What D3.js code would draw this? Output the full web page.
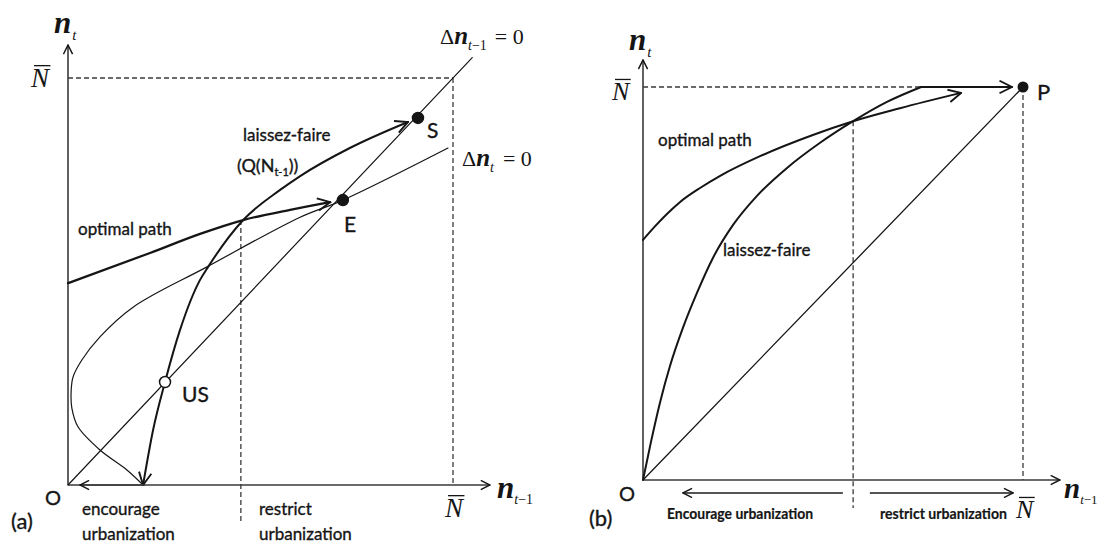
<!DOCTYPE html>
<html>
<head>
<meta charset="utf-8">
<script src="https://cdn.jsdelivr.net/npm/d3@7"></script>
<style>
  body { margin: 0; background: #fff; }
  svg { display: block; }
</style>
</head>
<body>
<svg id="chart" width="1102" height="545"></svg>
<script>
// ---------- Panel (a): laissez-faire vs optimal path with two steady states ----------
// All values in units of the city-size ceiling N̄ (origin = 0, N̄ = 1).
const aDiagonal = [[0, 0], [1.05, 1.05]];                 // Δn_{t-1} = 0
const aStationary = [                                      // Δn_t = 0 (backward-bending)
  [0.195, 0.000], [0.153, 0.037], [0.083, 0.086], [0.026, 0.143], [0.010, 0.189],
  [0.008, 0.226], [0.013, 0.265], [0.036, 0.307], [0.083, 0.364], [0.169, 0.437],
  [0.361, 0.536], [0.603, 0.658], [0.714, 0.700], [0.987, 0.828]
];
const aLaissezFaire = [                                    // Q(N_{t-1})
  [0.195, 0.000], [0.221, 0.135], [0.252, 0.253], [0.291, 0.381], [0.343, 0.504],
  [0.364, 0.536], [0.455, 0.651], [0.551, 0.725], [0.603, 0.759], [0.732, 0.828],
  [0.883, 0.892]
];
const aOptimal = [
  [0.000, 0.496], [0.213, 0.570], [0.343, 0.617], [0.455, 0.651], [0.577, 0.676], [0.681, 0.695]
];
const aStates = [
  { name: "US", x: 0.252, y: 0.253, open: true },
  { name: "E",  x: 0.714, y: 0.700, open: false },
  { name: "S",  x: 0.909, y: 0.902, open: false }
];
const aSwitchX = 0.449;
const aZoneLabels = [["encourage", "urbanization"], ["restrict", "urbanization"]];

// ---------- Panel (b): single steady state P ----------
const bDiagonal = [[0, 0], [1, 1]];
const bOptimal = [
  [0.000, 0.611], [0.032, 0.646], [0.063, 0.677], [0.097, 0.707], [0.150, 0.743],
  [0.203, 0.774], [0.308, 0.824], [0.447, 0.878], [0.553, 0.913], [0.676, 0.946],
  [0.837, 0.985]
];
const bLaissezFaire = [
  [0.000, 0.000], [0.021, 0.097], [0.045, 0.198], [0.071, 0.290], [0.105, 0.387],
  [0.142, 0.476], [0.184, 0.565], [0.237, 0.649], [0.300, 0.723], [0.379, 0.794],
  [0.466, 0.858], [0.553, 0.913], [0.642, 0.962], [0.732, 1.000]
];
const bCapReach = [[0.732, 1.0], [0.971, 1.0]];           // flat run along N̄ towards P
const bState = { name: "P", x: 1, y: 1 };
const bSwitchX = 0.553;
const bZoneLabels = ["Encourage urbanization", "restrict urbanization"];

const INK = "#151515";
const AXIS = "#3a3a3a";
const SANS = "Lato, 'Open Sans', sans-serif";
const SERIF = "'Liberation Serif', 'DejaVu Serif', serif";

const svg = d3.select("#chart");

// arrowheads
const defs = svg.append("defs");
function marker(id, size, width, orient) {
  defs.append("marker")
    .attr("id", id)
    .attr("viewBox", "0 0 12 12")
    .attr("refX", 11).attr("refY", 6)
    .attr("markerWidth", size).attr("markerHeight", size)
    .attr("markerUnits", "userSpaceOnUse")
    .attr("orient", orient)
    .append("path")
    .attr("d", "M1,1 L11,6 L1,11")
    .attr("fill", "none")
    .attr("stroke", INK)
    .attr("stroke-width", width)
    .attr("stroke-linejoin", "miter");
}
marker("arrowBig", 15, 1.5, "auto");
marker("arrowBigStart", 15, 1.5, "auto-start-reverse");
marker("arrowAxis", 11, 1.6, "auto");

function drawPanel(cfg) {
  const x = d3.scaleLinear().domain([0, 1]).range(cfg.xRange);
  const y = d3.scaleLinear().domain([0, 1]).range(cfg.yRange);
  const g = svg.append("g");
  const line = d3.line().x(d => x(d[0])).y(d => y(d[1]));
  const mono = d3.line().x(d => x(d[0])).y(d => y(d[1])).curve(d3.curveMonotoneX);
  const loop = d3.line().x(d => x(d[0])).y(d => y(d[1])).curve(d3.curveCatmullRom.alpha(0.5));

  // axes (arrow-tipped)
  g.append("line")
    .attr("x1", x(0)).attr("y1", y(0)).attr("x2", x(cfg.xMax)).attr("y2", y(0))
    .attr("stroke", AXIS).attr("stroke-width", 1.6).attr("marker-end", "url(#arrowAxis)");
  g.append("line")
    .attr("x1", x(0)).attr("y1", y(0)).attr("x2", x(0)).attr("y2", y(cfg.yMax))
    .attr("stroke", AXIS).attr("stroke-width", 1.6).attr("marker-end", "url(#arrowAxis)");

  return { x, y, g, line, mono, loop };
}

function dashed(p, pts) {
  p.g.append("path").attr("d", p.line(pts))
    .attr("fill", "none").attr("stroke", AXIS).attr("stroke-width", 1.3)
    .attr("stroke-dasharray", "5,3");
}

function curve(p, pts, w, opts = {}) {
  const gen = opts.kind === "straight" ? p.line : opts.kind === "loop" ? p.loop : p.mono;
  const path = p.g.append("path")
    .attr("d", gen(pts))
    .attr("fill", "none").attr("stroke", INK).attr("stroke-width", w)
    .attr("stroke-linecap", "round");
  if (opts.end) path.attr("marker-end", "url(#" + opts.end + ")");
  if (opts.start) path.attr("marker-start", "url(#" + opts.start + ")");
  return path;
}

// Math label built from tspans: parts = [{t, size, italic, bold, dy, dx}]
function mathText(g, x, y, parts, family = SERIF) {
  const t = g.append("text").attr("x", x).attr("y", y)
    .attr("font-family", family).attr("fill", INK);
  parts.forEach(pt => {
    const s = t.append("tspan").text(pt.t)
      .attr("font-size", pt.size)
      .attr("font-style", pt.italic ? "italic" : "normal")
      .attr("font-weight", pt.bold ? "bold" : "normal");
    if (pt.dy) s.attr("dy", pt.dy);
    if (pt.dx) s.attr("dx", pt.dx);
  });
  return t;
}

function nBar(g, x, baseline, size) {
  g.append("text").attr("x", x).attr("y", baseline)
    .attr("font-family", SERIF).attr("font-style", "italic")
    .attr("font-size", size).attr("fill", INK).text("N");
  g.append("line")
    .attr("x1", x + 3).attr("x2", x + size * 0.72)
    .attr("y1", baseline - size * 0.79).attr("y2", baseline - size * 0.79)
    .attr("stroke", INK).attr("stroke-width", 1.3);
}

function sans(g, x, y, txt, size, extra = {}) {
  const t = g.append("text").attr("x", x).attr("y", y)
    .attr("font-family", SANS).attr("font-size", size).attr("fill", INK)
    .attr("stroke", INK).attr("stroke-width", 0.35).text(txt);
  Object.entries(extra).forEach(([k, v]) => t.attr(k, v));
  return t;
}

// ================= Panel (a) =================
const pa = drawPanel({ xRange: [68, 453], yRange: [485, 78], xMax: 1.096, yMax: 1.081 });

dashed(pa, [[0, 1], [1, 1]]);
dashed(pa, [[1, 1], [1, 0]]);
dashed(pa, [[aSwitchX, 0.651], [aSwitchX, -0.091]]);

curve(pa, aDiagonal, 1.2, { kind: "straight" });
curve(pa, aStationary, 1.2, { kind: "loop" });
curve(pa, aOptimal, 2.3, { end: "arrowBig" });
curve(pa, aLaissezFaire, 2.0, { end: "arrowBig", start: "arrowBigStart" });

// left-pointing arrow along the axis: encourage urbanisation
pa.g.append("line")
  .attr("x1", pa.x(0.2)).attr("y1", pa.y(0)).attr("x2", pa.x(0.031)).attr("y2", pa.y(0))
  .attr("stroke", AXIS).attr("stroke-width", 1.4).attr("marker-end", "url(#arrowAxis)");

pa.g.selectAll("circle.state").data(aStates).join("circle")
  .attr("class", "state")
  .attr("cx", d => pa.x(d.x)).attr("cy", d => pa.y(d.y)).attr("r", 5.5)
  .attr("fill", d => d.open ? "#fff" : INK)
  .attr("stroke", INK).attr("stroke-width", 1.5);

sans(pa.g, 182, 402, "US", 21);
sans(pa.g, 344, 232, "E", 21);
sans(pa.g, 427, 138, "S", 21);

sans(pa.g, 78, 235, "optimal path", 17);
sans(pa.g, 243, 141, "laissez-faire", 17);
mathText(pa.g, 237, 172, [
  { t: "(Q(N", size: 18 },
  { t: "t-1", size: 11, dy: 4 },
  { t: "))", size: 18, dy: -4 }
], SANS).attr("stroke", INK).attr("stroke-width", 0.35);

// axis titles and labels
mathText(pa.g, 54, 33, [
  { t: "n", size: 31, italic: true, bold: true },
  { t: "t", size: 15, italic: true, dy: 7, dx: 1 }
]);
mathText(pa.g, 497, 498, [
  { t: "n", size: 31, italic: true, bold: true },
  { t: "t", size: 14, italic: true, dy: 6 },
  { t: "−1", size: 14 }
]);
mathText(pa.g, 440, 44, [
  { t: "Δ", size: 22 },
  { t: "n", size: 25, italic: true, bold: true },
  { t: "t", size: 14, italic: true, dy: 6 },
  { t: "−1", size: 14 },
  { t: "= 0", size: 22, dy: -6, dx: 8 }
]);
mathText(pa.g, 462, 166, [
  { t: "Δ", size: 22 },
  { t: "n", size: 25, italic: true, bold: true },
  { t: "t", size: 14, italic: true, dy: 6 },
  { t: "= 0", size: 22, dy: -6, dx: 9 }
]);
nBar(pa.g, 31, 87, 27);
nBar(pa.g, 445, 517, 27);

sans(pa.g, 45, 505, "O", 20);
sans(pa.g, 11, 529, "(a)", 22);

sans(pa.g, 82, 515, aZoneLabels[0][0], 17);
sans(pa.g, 82, 540, aZoneLabels[0][1], 17);
sans(pa.g, 259, 515, aZoneLabels[1][0], 17);
sans(pa.g, 259, 540, aZoneLabels[1][1], 17);

// ================= Panel (b) =================
const pb = drawPanel({ xRange: [643, 1023], yRange: [480, 87], xMax: 1.097, yMax: 1.069 });

dashed(pb, [[0, 1], [0.732, 1]]);
dashed(pb, [[1, 1], [1, 0]]);
dashed(pb, [[bSwitchX, 0.913], [bSwitchX, -0.071]]);

curve(pb, bDiagonal, 1.3, { kind: "straight" });
curve(pb, bOptimal, 2.0, { end: "arrowBig" });
curve(pb, bLaissezFaire, 2.0);
curve(pb, bCapReach, 2.0, { kind: "straight", end: "arrowBig" });

pb.g.append("circle")
  .attr("cx", pb.x(bState.x)).attr("cy", pb.y(bState.y)).attr("r", 5.5)
  .attr("fill", INK);
sans(pb.g, 1037, 100, bState.name, 22);

// zone arrows below the axis
pb.g.append("line")
  .attr("x1", pb.x(0.526)).attr("y1", pb.y(-0.033)).attr("x2", pb.x(0.105)).attr("y2", pb.y(-0.033))
  .attr("stroke", "#555").attr("stroke-width", 2).attr("marker-end", "url(#arrowAxis)");
pb.g.append("line")
  .attr("x1", pb.x(0.597)).attr("y1", pb.y(-0.033)).attr("x2", pb.x(0.974)).attr("y2", pb.y(-0.033))
  .attr("stroke", "#555").attr("stroke-width", 2).attr("marker-end", "url(#arrowAxis)");

sans(pb.g, 667, 519, bZoneLabels[0], 15, { "font-weight": "bold", "stroke-width": 0.2, textLength: 146, lengthAdjust: "spacingAndGlyphs" });
sans(pb.g, 880, 519, bZoneLabels[1], 15, { "font-weight": "bold", "stroke-width": 0.2, textLength: 127, lengthAdjust: "spacingAndGlyphs" });

sans(pb.g, 658, 146, "optimal path", 17);
sans(pb.g, 723, 256, "laissez-faire", 17);

mathText(pb.g, 629, 50, [
  { t: "n", size: 31, italic: true, bold: true },
  { t: "t", size: 15, italic: true, dy: 7, dx: 1 }
]);
mathText(pb.g, 1064, 498, [
  { t: "n", size: 29, italic: true, bold: true },
  { t: "t", size: 13, italic: true, dy: 6 },
  { t: "−1", size: 13 }
]);
nBar(pb.g, 612, 100, 26);
nBar(pb.g, 1016, 518, 26);

sans(pb.g, 619, 501, "O", 20);
sans(pb.g, 589, 526, "(b)", 22);
</script>
</body>
</html>
